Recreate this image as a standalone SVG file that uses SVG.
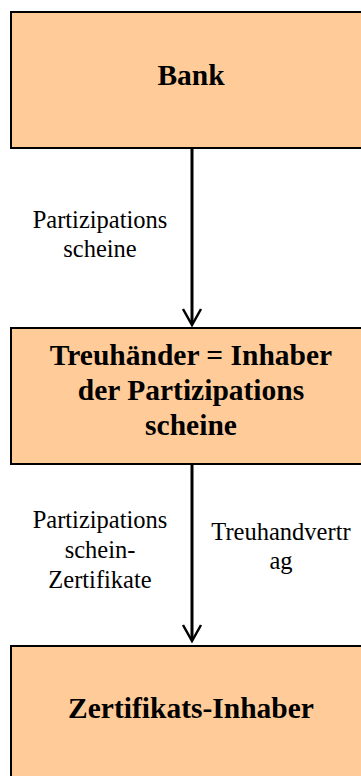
<svg xmlns="http://www.w3.org/2000/svg" width="361" height="776" viewBox="0 0 361 776">
<style>
.box{fill:#FFCC99;stroke:#000;stroke-width:2}
.bt{font-family:"Liberation Serif","Times New Roman",serif;font-weight:bold;font-size:29.5px;text-anchor:middle;fill:#000}
.lt{font-family:"Liberation Serif","Times New Roman",serif;font-size:24.5px;text-anchor:middle;fill:#000}
.ln{stroke:#000;stroke-width:3;fill:none}
.hd{stroke:#000;stroke-width:2.5;fill:none;stroke-linejoin:miter}
</style>
<rect width="361" height="776" fill="#fff"/>
<g id="connectors">
<line class="ln" x1="192" y1="148" x2="192" y2="324"/>
<polyline class="hd" points="183,309 192,325 201,309"/>
<line class="ln" x1="192" y1="464" x2="192" y2="640"/>
<polyline class="hd" points="183,625 192,641 201,625"/>
<text class="lt" x="100" y="228">Partizipations</text>
<text class="lt" x="100" y="257">scheine</text>
<text class="lt" x="100" y="528">Partizipations</text>
<text class="lt" x="100" y="558">schein-</text>
<text class="lt" x="100" y="588">Zertifikate</text>
<text class="lt" x="281" y="540">Treuhandvertr</text>
<text class="lt" x="281" y="569">ag</text>
</g>
<g id="bank">
<rect class="box" x="11" y="12" width="370" height="136"/>
<text class="bt" x="191" y="85">Bank</text>
</g>
<g id="treuhaender">
<rect class="box" x="11" y="328" width="370" height="136"/>
<text class="bt" x="191" y="365">Treuhänder = Inhaber</text>
<text class="bt" x="191" y="400">der Partizipations</text>
<text class="bt" x="191" y="435">scheine</text>
</g>
<g id="zertifikatsinhaber">
<rect class="box" x="11" y="646" width="370" height="140"/>
<text class="bt" x="191" y="718">Zertifikats-Inhaber</text>
</g>
</svg>
